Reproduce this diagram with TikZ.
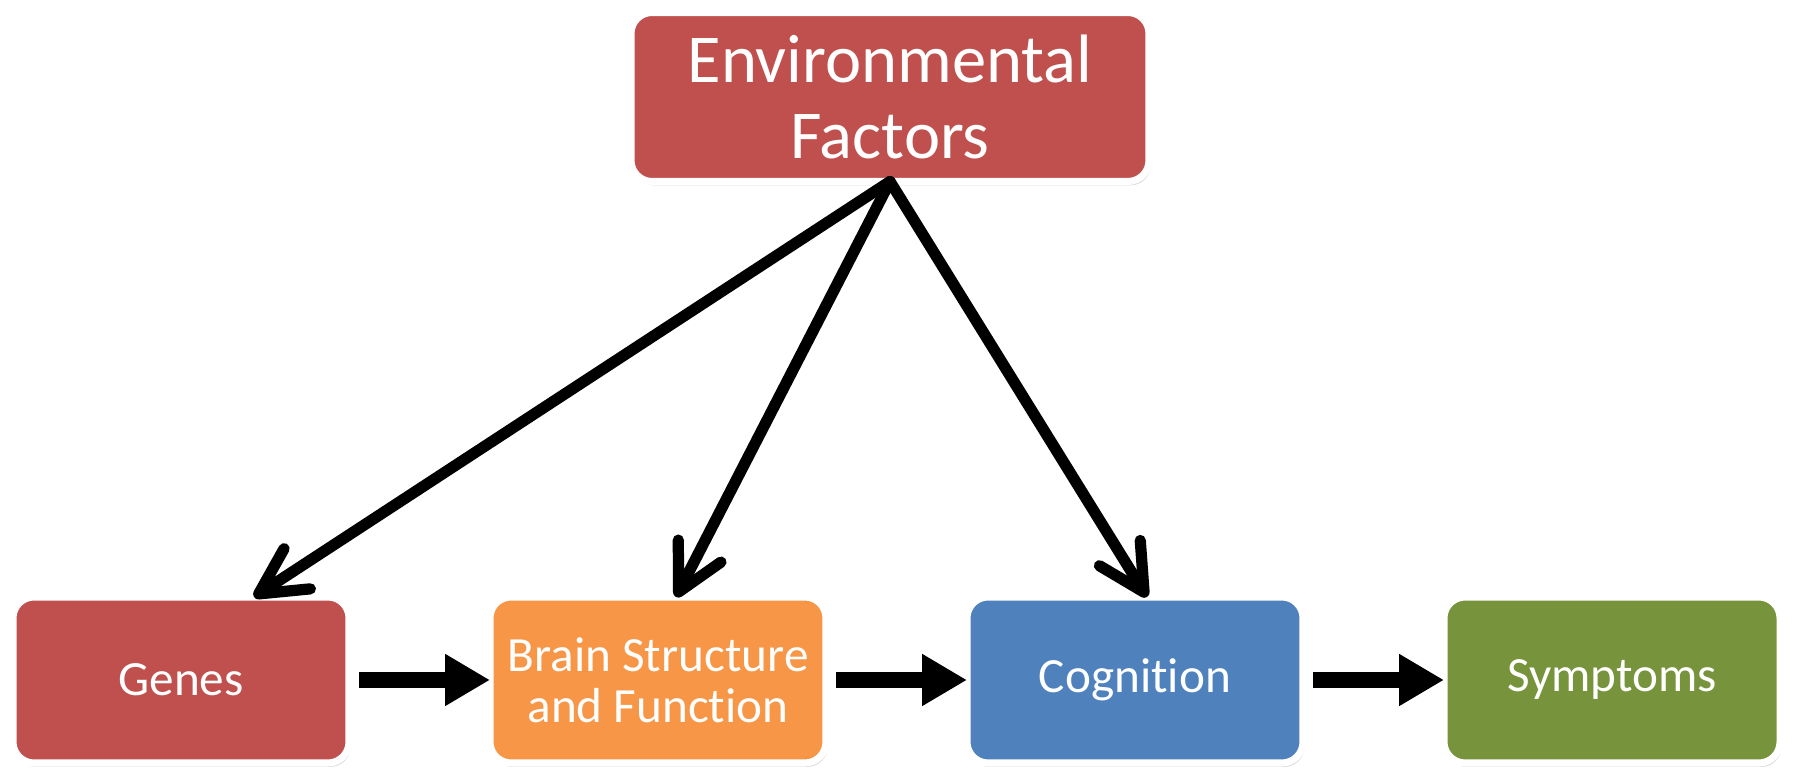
\documentclass[tikz,border=0pt]{standalone}
\usepackage{fontspec}
\setmainfont{Carlito}[Ligatures=NoCommon]
\usepackage{xcolor}
\usetikzlibrary{arrows.meta, positioning, shadows}

\definecolor{boxred}{HTML}{C0504D}
\definecolor{boxorange}{HTML}{F79646}
\definecolor{boxblue}{HTML}{4F81BD}
\definecolor{boxgreen}{HTML}{77933C}

\begin{document}
\begin{tikzpicture}[
    node distance=1.41cm,
    every node/.style={align=center},
    factor/.style={rectangle, rounded corners=6pt, minimum width=3.36cm, minimum height=1.66cm, text centered, draw=white, line width=2pt, outer sep=0pt, text=white, font=\fontsize{14}{14.5}\selectfont, drop shadow={shadow xshift=0.2mm, shadow yshift=-0.4mm, opacity=0.3}},
    topfactor/.style={factor, minimum width=5.18cm, minimum height=1.69cm, font=\fontsize{19.5}{21.5}\selectfont},
    thinarrow/.style={line width=3.2pt, line cap=round, line join=round, -{Straight Barb[length=4.6mm, width=4.8mm, line cap=round, line join=round]}},
    thickarrow/.style={line width=4.5pt, shorten <=1mm, -{Triangle[length=4.5mm, width=4.9mm]}}
]
\useasboundingbox (0,0) rectangle (17.95,7.71);

% Top factor
\node (env) [topfactor, fill=boxred] at (8.90,6.74) {Environmental\\Factors};

% Chain of boxes
\node (genes) [factor, fill=boxred] at (1.81,0.91) {Genes};
\node (brain) [factor, fill=boxorange, right=of genes] {Brain Structure\\and Function};
\node (cog) [factor, fill=boxblue, right=of brain] {Cognition};
\node (symp) [factor, fill=boxgreen, right=of cog] {Symptoms};

% Arrows
\draw [thinarrow] (env.south) -- ([xshift=0.73cm]genes.north);
\draw [thinarrow] (env.south) -- ([xshift=0.18cm]brain.north);
\draw [thinarrow] (env.south) -- ([xshift=0.12cm]cog.north);
\draw [thickarrow] (genes) -- (brain);
\draw [thickarrow] (brain) -- (cog);
\draw [thickarrow] (cog) -- (symp);

\end{tikzpicture}
\end{document}
